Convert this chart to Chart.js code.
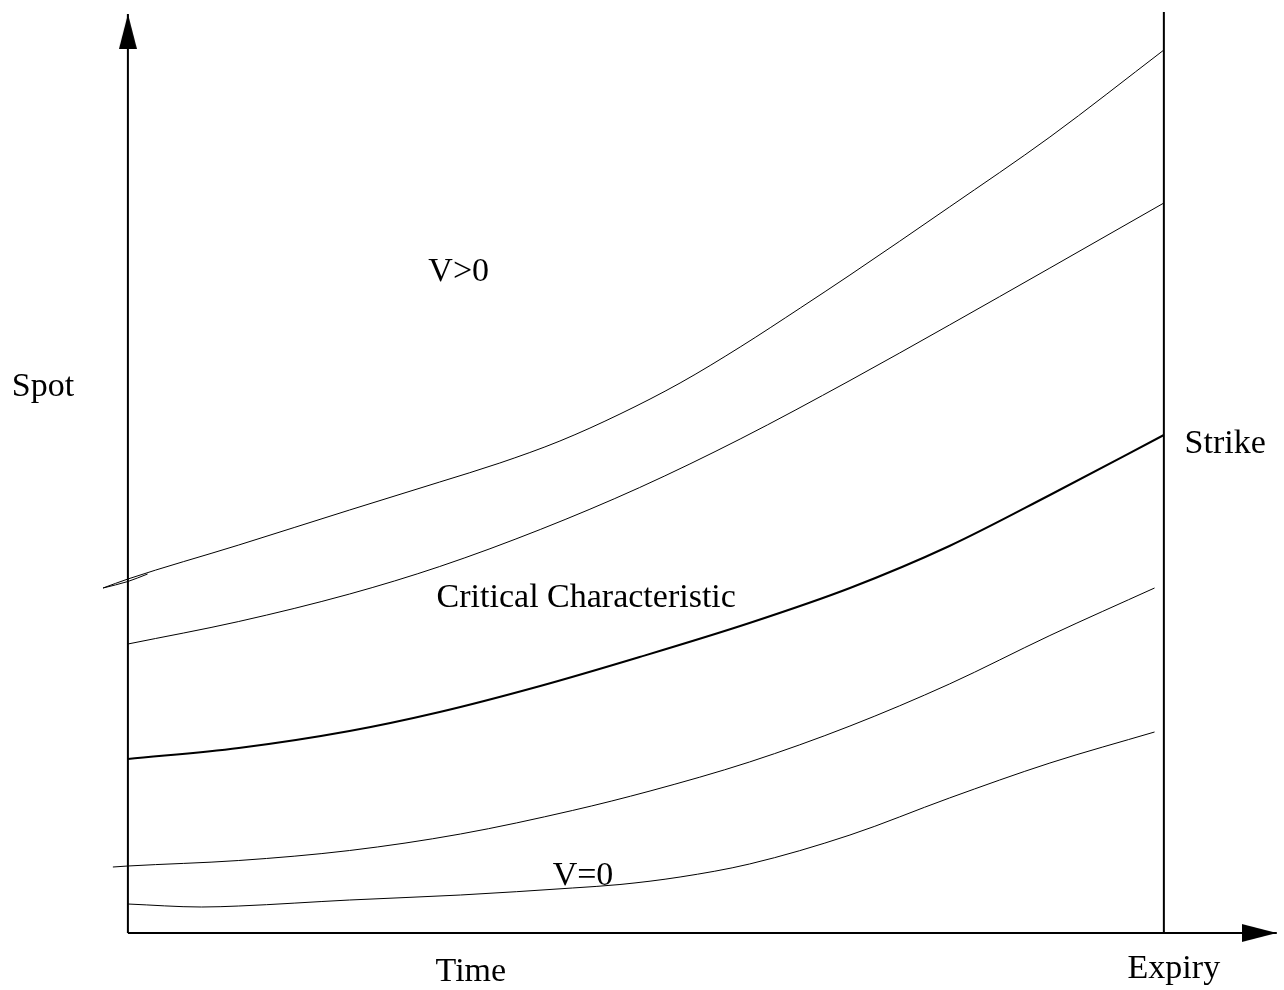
<!DOCTYPE html>
<html>
<head>
<meta charset="utf-8">
<script src="https://cdn.jsdelivr.net/npm/chart.js@4"></script>
<style>
  html, body { margin: 0; padding: 0; background: #fff; }
  #wrap { width: 1284px; height: 990px; }
</style>
</head>
<body>
<div id="wrap"><canvas id="myChart"></canvas></div>
<script>
// Time runs 0 (today) .. 100 (expiry), spot in arbitrary units
const expiryTime = 100;
const timeAxisEnd = 110.9;
const spotAxisEnd = 91.9;
const expiryLineTop = 92.1;

// top characteristic (with the small kink at its start)
const timeUpper = [-2.4, 0, 10.7, 21.4, 30.1, 35.9, 41.7, 47.5, 53.3, 59.1, 64.9, 69.7, 79.3, 89.0, 100];
const spotUpper = [34.5, 35.4, 38.8, 42.3, 45.1, 47.0, 49.2, 51.9, 55.0, 58.6, 62.5, 65.8, 72.6, 79.6, 88.3];
const timeKink = [-2.4, 0, 1.9];
const spotKink = [34.5, 35.15, 35.9];

const timeSecond = [0, 10.7, 21.4, 30.1, 39.8, 49.4, 59.1, 69.7, 79.3, 89.0, 100];
const spotSecond = [28.9, 31.15, 33.9, 36.65, 40.35, 44.55, 49.4, 55.25, 60.8, 66.5, 73.0];

// critical characteristic, ends at the strike
const timeCritical = [0, 10.7, 21.4, 30.1, 39.8, 49.4, 60.0, 69.7, 79.3, 89.0, 100];
const spotCritical = [17.4, 18.5, 20.2, 22.1, 24.7, 27.6, 31.0, 34.5, 38.7, 43.8, 49.8];

const timeLower = [-1.45, 0, 10.7, 21.4, 32.1, 42.9, 50.4, 60.0, 69.7, 79.3, 89.0, 99.1];
const spotLower = [6.6, 6.7, 7.25, 8.25, 9.9, 12.25, 14.2, 17.1, 20.7, 24.9, 29.75, 34.5];

const timeZero = [0, 7.1, 10.7, 21.4, 32.1, 42.9, 47.5, 53.3, 60.0, 69.7, 79.3, 89.0, 99.1];
const spotZero = [2.9, 2.6, 2.7, 3.3, 3.8, 4.5, 4.85, 5.6, 6.9, 9.8, 13.5, 17.0, 20.1];

// text labels (left edge, baseline)
const labelTexts = ["Spot", "V>0", "Critical Characteristic", "V=0", "Strike", "Time", "Expiry"];
const labelTimes = [-11.2, 29.0, 29.8, 41.0, 102.0, 29.7, 96.5];
const labelSpots = [53.7, 65.2, 32.6, 4.8, 48.0, -4.8, -4.5];

const ctx = document.getElementById("myChart").getContext("2d");

function toPoints(times, spots) {
  return times.map((t, i) => ({ x: t, y: spots[i] }));
}

// arrow head used as point style (tip sits at the image centre)
const arrowHead = document.createElement("canvas");
arrowHead.width = 18;
arrowHead.height = 70;
const ah = arrowHead.getContext("2d");
ah.fillStyle = "#000";
ah.beginPath();
ah.moveTo(9, 35);
ah.lineTo(18, 70);
ah.lineTo(0, 70);
ah.closePath();
ah.fill();

function curve(times, spots, width) {
  return {
    data: toPoints(times, spots),
    showLine: true,
    borderColor: "#000",
    borderWidth: width,
    pointRadius: 0,
    cubicInterpolationMode: "monotone",
  };
}

function axisLine(points, rotation) {
  return {
    data: points,
    showLine: true,
    borderColor: "#000",
    borderWidth: 2,
    pointRadius: [0, 1],
    pointStyle: arrowHead,
    pointRotation: rotation,
    clip: false,
  };
}

// draws the text labels at data positions
const labelPlugin = {
  id: "labels",
  afterDatasetsDraw(chart) {
    const c = chart.ctx;
    const xs = chart.scales.x;
    const ys = chart.scales.y;
    c.save();
    c.font = '34px "Liberation Serif"';
    c.fillStyle = "#000";
    c.textAlign = "left";
    c.textBaseline = "alphabetic";
    labelTexts.forEach((txt, i) => {
      c.fillText(txt, xs.getPixelForValue(labelTimes[i]), ys.getPixelForValue(labelSpots[i]));
    });
    c.restore();
  },
};

const myChart = new Chart(ctx, {
  type: "scatter",
  data: {
    datasets: [
      axisLine([{ x: 0, y: 0 }, { x: timeAxisEnd, y: 0 }], 90),
      axisLine([{ x: 0, y: 0 }, { x: 0, y: spotAxisEnd }], 0),
      {
        data: [{ x: expiryTime, y: 0 }, { x: expiryTime, y: expiryLineTop }],
        showLine: true,
        borderColor: "#000",
        borderWidth: 2,
        pointRadius: 0,
      },
      curve(timeUpper, spotUpper, 1),
      curve(timeKink, spotKink, 1),
      curve(timeSecond, spotSecond, 1),
      curve(timeCritical, spotCritical, 2),
      curve(timeLower, spotLower, 1),
      curve(timeZero, spotZero, 1),
    ],
  },
  options: {
    responsive: true,
    maintainAspectRatio: false,
    animation: false,
    events: [],
    layout: { autoPadding: false, padding: { left: 102, right: 1, top: 3, bottom: 7 } },
    scales: {
      x: { type: "linear", min: -2.5, max: 111.5, display: false },
      y: { type: "linear", min: -5, max: 93, display: false },
    },
    plugins: {
      legend: { display: false },
      tooltip: { enabled: false },
    },
  },
  plugins: [labelPlugin],
});
</script>
</body>
</html>
